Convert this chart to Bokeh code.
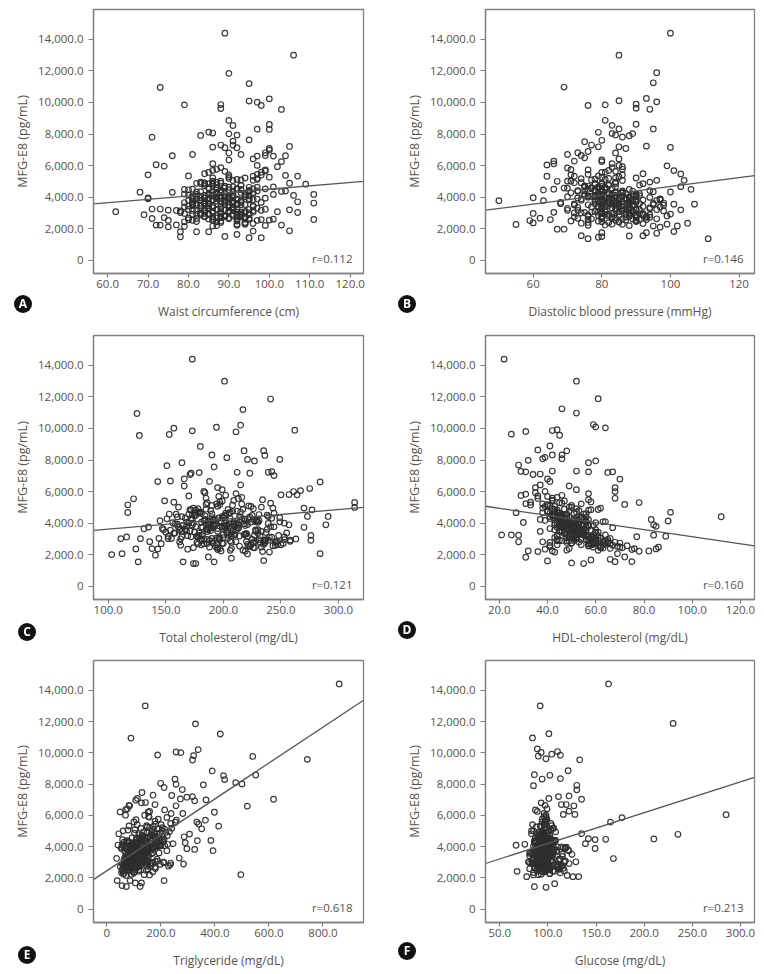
from bokeh.plotting import figure
from bokeh.models import Range1d, FixedTicker, Label, Div
from bokeh.layouts import column, row
from bokeh.embed import file_html
from bokeh.resources import INLINE

# ---------------- data ----------------
y_ticks = [0, 2000, 4000, 6000, 8000, 10000, 12000, 14000]
y_tick_labels = ["0", "2,000.0", "4,000.0", "6,000.0", "8,000.0", "10,000.0", "12,000.0", "14,000.0"]
y_title = "MFG-E8 (pg/mL)"

# MFG-E8 values of the densely packed subjects
mfg_core = [
    3820, 4150, 2960, 3540, 4410, 2680, 3980, 5120, 3310, 4630,
    2450, 3720, 4270, 3090, 5480, 3650, 2810, 4060, 3370, 4880,
    2230, 3910, 4520, 3180, 2740, 4340, 3560, 5760, 2990, 4090,
    3260, 4710, 2570, 3840, 4190, 3030, 5290, 3470, 2380, 4010,
    3690, 2880, 4460, 3140, 5010, 3780, 2620, 4230, 3420, 6120,
    2920, 4080, 3350, 4790, 2510, 3870, 4320, 3210, 5630, 2780,
    4130, 3580, 2690, 4570, 3930, 3060, 4950, 2340, 3740, 4380,
    3400, 5220, 2840, 3990, 4670, 3120, 2470, 4250, 3610, 5410,
    2970, 4480, 3290, 3850, 2160, 4020, 5870, 3500, 2730, 4170,
    3760, 2590, 4600, 3230, 4860, 3940, 2900, 5340, 3460, 4290,
    2620, 3800, 4410, 3020, 5560, 3660, 2410, 4110, 3380, 4740,
    3150, 4240, 2800, 3710, 6350, 2950, 4500, 3520, 2280, 4020,
    3890, 3070, 4820, 2540, 3600, 5180, 3330, 4390, 2770, 3960,
    4560, 2860, 3430, 5050, 3160, 4200, 2650, 3770, 4910, 3250,
    2710, 4050, 3480, 5690, 3000, 4300, 3840, 2440, 4640, 3570,
    3640, 2870, 4220, 3350, 5060, 2530, 3930, 4480, 3110, 6640,
    4010, 3270, 2720, 4870, 3590, 2190, 4350, 3780, 5440, 2960,
    3480, 4630, 2610, 3860, 3020, 5210, 4120, 2830, 3690, 7080,
    2390, 4270, 3560, 3150, 4760, 2680, 3990, 5930, 3310, 4410,
    3870, 2950, 4580, 3420, 2270, 4060, 3730, 5170, 2800, 6420,
    4190, 3080, 3510, 4950, 2640, 3820, 4440, 3200, 2480, 5580,
    3330, 4700, 2910, 4030, 3670, 5320, 2750, 3940, 4290, 3050,
    2560, 3750, 4540, 3280, 6010, 3960, 2860, 4150, 3520, 4820,
    4360, 3180, 2690, 5090, 3600, 4080, 2320, 3880, 4650, 3440,
    3010, 4230, 5720, 2780, 3710, 4500, 3240, 2600, 4080, 6800,
    3790, 2900, 4400, 3370, 4910, 2520, 3930, 3130, 5260, 4170,
    2840, 3550, 4620, 3210, 2210, 4320, 3650, 5010, 2970, 3830,
    4460, 3100, 3900, 2650, 5400, 3470, 4050, 2880, 4280, 3580,
    3260, 6250, 2770, 4140, 3720, 4850, 3040, 2430, 3960, 4560,
    2990, 4390, 3610, 5130, 3170, 2740, 4010, 3490, 4700, 3850,
]
# the same subjects listed in other orders (pairing used by some panels)
mfg_rev = list(reversed(mfg_core))
mfg_half = mfg_core[:150] + list(reversed(mfg_core[150:]))

# ---- Panel A: waist circumference (cm)
waist_core = [
    86, 91, 83, 88, 95, 80, 89, 92, 85, 97,
    82, 90, 87, 94, 84, 79, 93, 86, 91, 88,
    77, 85, 96, 89, 92, 83, 81, 87, 95, 90,
    88, 84, 98, 86, 79, 93, 90, 82, 94, 87,
    91, 85, 80, 96, 88, 84, 92, 89, 83, 86,
    93, 81, 90, 87, 86, 97, 82, 95, 89, 84,
    80, 92, 88, 85, 99, 90, 83, 94, 87, 91,
    96, 86, 92, 81, 89, 78, 88, 93, 85, 90,
    84, 79, 97, 90, 86, 94, 88, 81, 93, 82,
    89, 95, 85, 99, 83, 87, 91, 80, 96, 86,
    90, 83, 88, 92, 85, 98, 87, 84, 79, 93,
    82, 96, 91, 88, 90, 85, 81, 94, 92, 87,
    95, 88, 84, 100, 81, 90, 86, 97, 89, 83,
    87, 93, 80, 91, 98, 85, 95, 89, 84, 92,
    94, 82, 90, 86, 88, 76, 92, 87, 101, 85,
    84, 92, 87, 90, 96, 81, 88, 93, 86, 99,
    89, 85, 94, 82, 91, 87, 95, 80, 97, 88,
    83, 90, 86, 92, 78, 94, 85, 89, 91, 100,
    88, 96, 84, 81, 93, 87, 90, 102, 85, 95,
    92, 79, 89, 86, 94, 83, 91, 97, 88, 96,
    85, 90, 93, 87, 82, 95, 88, 84, 92, 98,
    91, 86, 81, 94, 89, 96, 84, 90, 87, 93,
    80, 88, 92, 85, 97, 91, 83, 94, 89, 86,
    95, 87, 90, 93, 84, 88, 96, 82, 91, 85,
    86, 94, 99, 89, 81, 92, 87, 85, 95, 90,
    93, 82, 88, 91, 86, 97, 84, 90, 100, 87,
    89, 85, 95, 80, 92, 88, 93, 86, 83, 96,
    90, 84, 87, 94, 98, 81, 91, 95, 88, 92,
    83, 103, 89, 86, 93, 85, 96, 79, 90, 87,
    94, 88, 82, 97, 91, 86, 84, 92, 89, 81,
]
waist_x = [89, 106, 90, 95, 73, 79, 88, 88, 95, 97, 98, 100, 103, 90, 91, 100, 100, 97, 90, 92,
           83, 85, 86, 71, 95, 91, 105, 104, 101, 97, 76, 81, 72, 74, 70, 107, 104, 109, 105, 111,
           111, 111, 107, 107, 105, 105, 103, 106, 103, 104, 62, 68, 69, 70, 70, 71, 71, 72, 73, 73,
           74, 75, 75, 75, 77, 78, 78, 79, 82, 85, 89, 92, 95, 98, 96, 99, 101, 102, 101, 99,
           99, 99, 100, 93, 91, 88, 86, 92, 89]
waist_y = [14400, 13000, 11850, 11200, 10950, 9850, 9870, 9620, 10090, 10020, 9810, 10230, 9560, 8860, 8540, 8610, 8290, 8310, 8010, 7930,
           7910, 8120, 8060, 7800, 7630, 7550, 7210, 6620, 6600, 6600, 6620, 6700, 6050, 5960, 5410, 5330, 5370, 4820, 4880, 4170,
           3620, 2580, 3700, 3020, 3190, 1860, 2220, 4100, 4360, 4380, 3070, 4310, 2880, 3950, 3890, 3240, 2640, 2220, 2220, 3240,
           2690, 2110, 2520, 3170, 3150, 1480, 1800, 2140, 1800, 1800, 1500, 1630, 1420, 1420, 1840, 2200, 2600, 3070, 4170, 4520,
           5650, 6810, 6980, 6700, 7300, 7300, 7170, 7130, 7130]

# ---- Panel B: diastolic blood pressure (mmHg)
dbp_core = [
    80, 76, 84, 88, 72, 90, 78, 82, 86, 74,
    70, 81, 85, 79, 92, 83, 75, 88, 80, 94,
    68, 84, 90, 77, 82, 86, 73, 80, 89, 78,
    82, 87, 71, 80, 84, 76, 91, 79, 85, 88,
    75, 80, 86, 83, 90, 72, 88, 78, 81, 96,
    84, 78, 89, 80, 66, 82, 93, 76, 87, 80,
    86, 79, 74, 92, 80, 84, 77, 90, 81, 73,
    80, 95, 82, 76, 88, 85, 70, 83, 79, 91,
    77, 84, 88, 80, 72, 90, 86, 82, 75, 94,
    81, 71, 87, 78, 92, 80, 84, 76, 89, 83,
    85, 82, 74, 90, 79, 86, 80, 77, 88, 97,
    78, 83, 86, 80, 84, 91, 73, 88, 82, 76,
    87, 80, 79, 84, 90, 75, 82, 86, 81, 98,
    92, 76, 85, 80, 88, 83, 78, 94, 86, 80,
    74, 89, 81, 87, 84, 96, 79, 82, 90, 85,
    78, 84, 80, 90, 86, 72, 82, 88, 76, 93,
    80, 74, 88, 83, 79, 70, 86, 81, 92, 77,
    84, 90, 75, 80, 82, 95, 87, 78, 85, 97,
    70, 83, 89, 76, 91, 80, 84, 99, 79, 86,
    82, 77, 90, 85, 68, 80, 88, 94, 74, 96,
    86, 80, 79, 92, 73, 84, 90, 81, 76, 89,
    80, 87, 72, 83, 90, 95, 78, 84, 88, 80,
    71, 82, 86, 79, 98, 80, 76, 90, 84, 92,
    89, 78, 74, 94, 81, 85, 69, 80, 91, 83,
    76, 84, 96, 80, 87, 90, 82, 73, 86, 100,
    83, 79, 91, 77, 88, 70, 84, 80, 94, 86,
    78, 82, 89, 85, 66, 90, 80, 93, 75, 84,
    91, 80, 86, 72, 95, 83, 88, 79, 87, 81,
    80, 97, 76, 85, 82, 92, 78, 71, 84, 90,
    75, 88, 81, 94, 80, 73, 86, 83, 89, 82,
]
dbp_x = [100, 85, 96, 95, 69, 85, 93, 96, 90, 90, 76, 81, 94, 81, 83, 90, 95, 85, 79, 83,
         84, 86, 89, 88, 75, 80, 85, 93, 100, 99, 101, 103, 104, 106, 107, 103, 103, 101, 100, 97,
         98, 99, 101, 102, 105, 111, 96, 97, 93, 92, 88, 80, 80, 79, 76, 74, 69, 67, 50, 55,
         59, 60, 60, 60, 62, 63, 63, 64, 66, 66, 64, 65, 67, 70, 72, 70, 71, 73, 75, 76,
         77, 79]
dbp_y = [14400, 13000, 11890, 11250, 10980, 10110, 10260, 10040, 9890, 9640, 9810, 9850, 9570, 8870, 8550, 8620, 8320, 8320, 8110, 8040,
         7940, 7810, 8020, 7890, 7510, 7600, 7190, 7230, 7150, 5980, 5680, 5470, 5060, 4490, 3550, 3190, 4660, 3550, 4320, 3810,
         3620, 2280, 1810, 2170, 2340, 1360, 1700, 2090, 1740, 1550, 1530, 1490, 1740, 1450, 1360, 1550, 1960, 1960, 3770, 2260,
         2510, 2360, 2960, 3960, 2660, 4450, 3770, 6040, 6110, 6280, 5320, 2570, 5000, 6700, 6280, 5850, 5740, 6810, 6490, 6890,
         7300, 7190]

# ---- Panel C: total cholesterol (mg/dL)
tc_core = [
    192, 215, 168, 201, 236, 177, 208, 185, 223, 197,
    159, 189, 227, 204, 171, 212, 183, 245, 195, 218,
    148, 206, 181, 230, 164, 199, 221, 187, 240, 175,
    210, 186, 233, 163, 196, 219, 179, 202, 154, 228,
    184, 241, 172, 209, 193, 226, 158, 214, 188, 205,
    166, 198, 224, 181, 238, 190, 207, 170, 216, 152,
    203, 179, 213, 195, 249, 167, 222, 186, 232, 200,
    176, 211, 145, 190, 218, 183, 200, 231, 161, 243,
    194, 172, 205, 226, 157, 213, 187, 239, 178, 220,
    185, 233, 169, 202, 191, 247, 174, 208, 196, 229,
    215, 162, 197, 181, 224, 206, 150, 190, 237, 173,
    199, 220, 184, 253, 178, 212, 164, 228, 193, 207,
    171, 188, 235, 198, 216, 155, 203, 181, 244, 195,
    225, 209, 176, 190, 234, 167, 217, 199, 182, 211,
    188, 242, 201, 160, 222, 195, 230, 173, 206, 186,
    187, 205, 174, 219, 242, 163, 196, 228, 181, 252,
    210, 178, 199, 235, 191, 152, 224, 203, 247, 170,
    193, 226, 160, 207, 185, 238, 214, 172, 200, 257,
    156, 217, 189, 176, 231, 166, 202, 246, 184, 221,
    208, 179, 229, 195, 147, 213, 190, 239, 168, 250,
    222, 186, 197, 236, 158, 204, 227, 181, 163, 244,
    192, 232, 171, 211, 198, 240, 165, 209, 225, 183,
    149, 201, 218, 188, 253, 206, 174, 220, 194, 237,
    215, 182, 169, 243, 196, 212, 153, 200, 230, 187,
    177, 216, 248, 167, 203, 223, 189, 157, 209, 258,
    199, 175, 226, 194, 241, 161, 207, 184, 236, 213,
    170, 197, 233, 186, 144, 219, 193, 245, 180, 205,
    228, 180, 202, 162, 249, 191, 214, 173, 221, 198,
    185, 255, 168, 211, 195, 234, 178, 151, 206, 226,
    176, 219, 190, 239, 183, 164, 208, 197, 231, 201,
]
tc_x = [173, 201, 241, 217, 125, 127, 157, 153, 173, 194, 215, 211, 262, 180, 190, 218, 235, 236, 203, 221,
        227, 249, 151, 164, 192, 172, 179, 212, 223, 239, 242, 244, 143, 154, 284, 275, 267, 261, 264, 257,
        250, 117, 117, 122, 314, 314, 277, 270, 273, 291, 289, 270, 276, 276, 284, 263, 253, 258, 235, 103,
        112, 111, 116, 124, 126, 128, 131, 135, 136, 138, 141, 143, 146, 165, 174, 176, 192, 187, 207, 221]
tc_y = [14400, 13000, 11870, 11200, 10950, 9560, 10020, 9620, 9850, 10080, 10210, 9790, 9890, 8860, 8320, 8590, 8590, 8290, 8150, 8040,
        7940, 8040, 7640, 7830, 7560, 7160, 7200, 7220, 7160, 7220, 7260, 7010, 6630, 6670, 6610, 6190, 6060, 6000, 5790, 5810,
        5790, 5160, 4670, 5540, 5310, 4990, 4840, 4950, 4420, 4420, 3890, 3730, 3220, 2910, 2060, 2990, 2950, 2840, 1620, 2000,
        2060, 3010, 3120, 2360, 1540, 3010, 3640, 3750, 2820, 2380, 1960, 2360, 2690, 1540, 1430, 1430, 1540, 1850, 1770, 2040]

# ---- Panel D: HDL-cholesterol (mg/dL)
hdl_core = [
    48, 52, 44, 56, 41, 59, 47, 50, 54, 45,
    62, 46, 51, 43, 57, 49, 38, 53, 60, 47,
    42, 55, 48, 61, 50, 44, 58, 46, 52, 64,
    51, 40, 57, 47, 53, 66, 45, 55, 49, 43,
    56, 48, 42, 59, 50, 46, 54, 37, 61, 52,
    45, 63, 49, 53, 41, 57, 47, 51, 44, 68,
    50, 43, 58, 46, 55, 48, 62, 39, 52, 56,
    47, 54, 65, 49, 44, 51, 59, 45, 53, 42,
    60, 46, 50, 55, 43, 48, 57, 52, 70, 47,
    53, 41, 56, 49, 61, 45, 51, 58, 46, 54,
    44, 57, 48, 52, 36, 50, 63, 47, 55, 49,
    58, 45, 53, 67, 49, 56, 42, 51, 48, 60,
    46, 52, 44, 57, 50, 72, 48, 54, 41, 53,
    55, 49, 60, 43, 51, 47, 58, 45, 52, 64,
    50, 56, 46, 40, 54, 48, 59, 62, 44, 51,
    50, 44, 57, 47, 39, 62, 53, 45, 58, 41,
    46, 55, 60, 43, 51, 36, 49, 56, 42, 65,
    54, 41, 63, 48, 52, 38, 46, 59, 50, 34,
    66, 47, 53, 44, 40, 57, 49, 35, 55, 45,
    43, 58, 48, 52, 61, 46, 51, 40, 64, 37,
    55, 49, 45, 38, 59, 50, 43, 56, 70, 42,
    47, 52, 60, 44, 53, 33, 58, 48, 41, 62,
    73, 50, 42, 54, 39, 46, 60, 51, 45, 57,
    44, 56, 66, 41, 49, 53, 75, 47, 38, 52,
    58, 43, 36, 60, 51, 45, 55, 67, 49, 40,
    48, 61, 45, 53, 42, 69, 50, 57, 46, 39,
    63, 47, 51, 44, 78, 54, 41, 49, 56, 45,
    42, 59, 50, 64, 47, 37, 53, 46, 52, 60,
    52, 35, 48, 56, 44, 58, 62, 71, 50, 43,
    57, 46, 53, 40, 49, 65, 45, 51, 43, 55,
]
hdl_x = [22, 52, 61, 46, 52, 25, 31, 42, 44, 45, 59, 60, 64, 41, 36, 48, 46, 42, 46, 39,
         38, 32, 28, 29, 31, 37, 42, 57, 60, 57, 52, 65, 67, 70, 68, 68, 78, 68, 91, 90,
         89, 112, 83, 84, 85, 84, 82, 86, 85, 77, 76, 75, 72, 69, 68, 66, 58, 55, 50, 40,
         31, 21, 25, 28, 28, 27, 29, 31, 31, 33, 30, 32]
hdl_y = [14400, 13000, 11890, 11250, 10980, 9640, 9810, 9870, 9920, 9570, 10250, 10100, 10040, 8890, 8640, 8580, 8320, 8320, 8080, 8170,
         8080, 7980, 7680, 7280, 7250, 7110, 7300, 7830, 7940, 7250, 7300, 7210, 7250, 6790, 6250, 6000, 5300, 5570, 4680, 4130,
         3170, 4400, 4230, 3890, 3790, 3230, 2230, 2470, 2360, 3130, 2380, 1550, 1850, 2060, 1550, 1700, 1660, 1430, 1470, 1600,
         1830, 3250, 3250, 2810, 3230, 4660, 5750, 5830, 5230, 5150, 4040, 2230]

# ---- Panel E: triglyceride (mg/dL)
tg_core = [
    120, 176, 88, 142, 131, 72, 158, 214, 96, 190,
    68, 150, 118, 112, 236, 101, 84, 185, 134, 148,
    92, 109, 198, 76, 118, 162, 88, 190, 130, 124,
    105, 224, 58, 167, 98, 128, 172, 79, 102, 146,
    112, 96, 183, 63, 205, 129, 110, 170, 151, 238,
    72, 137, 100, 163, 86, 95, 209, 141, 178, 61,
    196, 116, 99, 140, 153, 84, 232, 54, 88, 127,
    120, 158, 126, 103, 178, 97, 80, 145, 170, 201,
    115, 212, 66, 131, 70, 90, 222, 108, 77, 161,
    146, 90, 152, 122, 196, 174, 57, 147, 93, 187,
    74, 98, 138, 103, 253, 133, 95, 119, 82, 170,
    135, 110, 69, 160, 214, 85, 165, 99, 63, 130,
    117, 70, 185, 102, 138, 240, 89, 197, 112, 154,
    121, 107, 145, 168, 78, 183, 66, 106, 218, 126,
    86, 200, 114, 257, 92, 143, 75, 58, 176, 128,
    88, 130, 105, 62, 148, 95, 192, 120, 74, 165,
    150, 55, 118, 132, 176, 88, 96, 124, 158, 79,
    143, 110, 64, 196, 122, 112, 82, 147, 70, 205,
    112, 210, 60, 99, 80, 138, 116, 140, 165, 234,
    92, 150, 140, 68, 58, 176, 154, 123, 92, 131,
    128, 86, 180, 103, 130, 66, 162, 108, 76, 210,
    90, 172, 53, 101, 129, 193, 104, 178, 87, 140,
    44, 105, 225, 118, 166, 140, 73, 110, 96, 152,
    180, 63, 86, 228, 82, 120, 97, 160, 130, 110,
    100, 146, 186, 58, 113, 104, 136, 70, 188, 245,
    76, 116, 126, 152, 214, 61, 137, 93, 170, 98,
    108, 127, 155, 75, 66, 118, 97, 140, 84, 170,
    113, 128, 85, 57, 205, 151, 162, 68, 133, 78,
    144, 180, 92, 74, 158, 117, 102, 50, 123, 190,
    82, 150, 134, 172, 119, 78, 94, 106, 198, 116,
]
tg_x = [860, 142, 89, 328, 420, 188, 256, 274, 321, 317, 338, 390, 432, 436, 540, 551, 742, 477, 500, 357,
        367, 520, 617, 496, 398, 414, 365, 385, 393, 296, 325, 335, 333, 351, 340, 296, 317, 325, 279, 256,
        252, 199, 212, 240, 272, 281, 256, 286, 290, 306, 284, 268, 236, 212, 222, 171, 130, 143, 178, 153,
        156, 107, 84, 70, 69, 49, 41, 36, 38, 56, 72, 123, 128, 105, 86]
tg_y = [14400, 13000, 10940, 11850, 11200, 9860, 10050, 10010, 9820, 9540, 10200, 8840, 8540, 8290, 9770, 8580, 9580, 8090, 8010, 7950,
        6990, 6590, 7030, 2210, 6200, 5310, 5690, 4400, 3740, 3870, 3820, 4380, 5570, 5140, 5440, 7160, 7200, 6930, 7650, 7990,
        8310, 8050, 7780, 7270, 7050, 6120, 6610, 4630, 4250, 4800, 2890, 3270, 2950, 1830, 3740, 7290, 7460, 6820, 6690, 6200,
        5890, 6970, 6610, 6370, 6010, 6220, 4100, 3250, 1830, 1510, 1450, 1450, 1680, 1680, 1830]

# ---- Panel F: glucose (mg/dL)
glu_core = [
    95, 102, 88, 98, 110, 91, 97, 104, 86, 100,
    92, 99, 107, 84, 96, 101, 93, 115, 89, 97,
    81, 94, 100, 90, 103, 96, 87, 118, 98, 92,
    99, 93, 85, 106, 95, 90, 112, 97, 83, 101,
    96, 88, 104, 94, 99, 91, 100, 108, 87, 121,
    93, 97, 102, 90, 96, 86, 105, 99, 94, 80,
    100, 92, 98, 113, 95, 89, 103, 91, 97, 106,
    88, 101, 95, 93, 119, 98, 90, 102, 94, 111,
    97, 87, 100, 96, 92, 109, 99, 84, 93, 104,
    94, 98, 90, 101, 97, 86, 95, 125, 91, 100,
    99, 93, 105, 88, 96, 102, 94, 97, 82, 107,
    91, 100, 96, 114, 98, 92, 103, 89, 95, 97,
    101, 95, 88, 93, 99, 117, 90, 96, 94, 102,
    92, 98, 106, 97, 85, 100, 93, 110, 96, 89,
    97, 94, 99, 116, 91, 103, 95, 87, 100, 96,
    93, 100, 89, 96, 105, 87, 98, 102, 91, 112,
    97, 94, 86, 103, 99, 84, 101, 95, 110, 90,
    92, 99, 88, 96, 106, 91, 100, 83, 94, 118,
    85, 102, 95, 90, 98, 87, 104, 114, 93, 100,
    96, 89, 101, 94, 82, 97, 92, 107, 88, 116,
    99, 93, 104, 90, 95, 100, 86, 97, 81, 109,
    94, 101, 87, 98, 92, 120, 96, 90, 103, 88,
    84, 95, 100, 93, 111, 97, 89, 102, 96, 105,
    98, 91, 85, 108, 94, 100, 87, 96, 103, 92,
    90, 97, 113, 86, 95, 101, 93, 88, 99, 122,
    96, 92, 102, 89, 106, 83, 98, 94, 109, 100,
    87, 95, 99, 93, 80, 104, 97, 112, 90, 96,
    101, 88, 94, 85, 107, 96, 100, 91, 97, 93,
    95, 115, 90, 98, 92, 103, 94, 86, 99, 105,
    91, 100, 96, 110, 93, 89, 97, 95, 102, 94,
]
glu_x = [163, 92, 230, 101, 84, 89, 90, 93, 98, 104, 110, 113, 133, 86, 121, 102, 113, 94, 85, 130,
         130, 135, 122, 111, 114, 119, 127, 128, 116, 122, 165, 177, 210, 235, 285, 168, 149, 149, 160, 142,
         135, 139, 129, 126, 132, 107, 98, 86, 67, 68, 76, 78, 81, 117, 118, 115, 122]
glu_y = [14400, 13000, 11880, 11220, 10950, 10250, 9790, 10020, 9620, 9910, 10080, 9850, 9550, 8600, 8850, 8560, 8350, 8320, 7900, 7920,
         7630, 7030, 7240, 7200, 6690, 6690, 6610, 6060, 6060, 6270, 5570, 5850, 4490, 4790, 6040, 3240, 4450, 3880, 4470, 4510,
         4830, 4190, 3030, 2080, 2080, 1630, 1400, 1440, 4090, 2420, 4150, 2080, 3410, 2460, 3090, 3520, 3730]

# axis titles, ticks, correlation and fitted lines
panels = [
    dict(letter="A", title="Waist circumference (cm)", core=waist_core, mfg=mfg_core, xs=waist_x, ys=waist_y,
         xticks=[60, 70, 80, 90, 100, 110, 120],
         xlabels=["60.0", "70.0", "80.0", "90.0", "100.0", "110.0", "120.0"],
         xr=(56.5, 123.3), r="r=0.112", fit_intercept=2369, fit_slope=21.27),
    dict(letter="B", title="Diastolic blood pressure (mmHg)", core=dbp_core, mfg=mfg_rev, xs=dbp_x, ys=dbp_y,
         xticks=[60, 80, 100, 120], xlabels=["60", "80", "100", "120"],
         xr=(46.1, 124.5), r="r=0.146", fit_intercept=1874, fit_slope=28.02),
    dict(letter="C", title="Total cholesterol (mg/dL)", core=tc_core, mfg=mfg_rev, xs=tc_x, ys=tc_y,
         xticks=[100, 150, 200, 250, 300], xlabels=["100.0", "150.0", "200.0", "250.0", "300.0"],
         xr=(87.2, 321.7), r="r=0.121", fit_intercept=2996, fit_slope=6.196),
    dict(letter="D", title="HDL-cholesterol (mg/dL)", core=hdl_core, mfg=mfg_core, xs=hdl_x, ys=hdl_y,
         xticks=[20, 40, 60, 80, 100, 120], xlabels=["20.0", "40.0", "60.0", "80.0", "100.0", "120.0"],
         xr=(14.3, 125.8), r="r=0.160", fit_intercept=5390, fit_slope=-22.56),
    dict(letter="E", title="Triglyceride (mg/dL)", core=tg_core, mfg=mfg_half, xs=tg_x, ys=tg_y,
         xticks=[0, 200, 400, 600, 800], xlabels=["0", "200.0", "400.0", "600.0", "800.0"],
         xr=(-49.6, 950.0), r="r=0.618", fit_intercept=2462, fit_slope=11.475),
    dict(letter="F", title="Glucose (mg/dL)", core=glu_core, mfg=mfg_rev, xs=glu_x, ys=glu_y,
         xticks=[50, 100, 150, 200, 250, 300], xlabels=["50.0", "100.0", "150.0", "200.0", "250.0", "300.0"],
         xr=(35.2, 314.5), r="r=0.213", fit_intercept=2228, fit_slope=19.72),
]

# ---------------- style ----------------
FONT = "Open Sans"
TEXT = "#57514d"
FRAME = "#808080"
MARK = "#2e2e2e"

col_w = [388, 376]
col_bl = [93, 97]
col_br = [25, 10]
row_h = [333, 325, 316]
row_bt = [9, 2, 2]
row_bb = [60, 59, 52]
# top-left page position of each round panel badge
badge_pos = [(14, 295), (398, 295), (18, 623), (398, 621), (18, 946), (398, 942)]


def make_panel(cfg, r, c):
    x0, x1 = cfg["xr"]
    p = figure(width=col_w[c], height=row_h[r],
               x_range=Range1d(x0, x1), y_range=Range1d(-850, 15900),
               output_backend="svg", toolbar_location=None,
               min_border_left=col_bl[c], min_border_right=col_br[c],
               min_border_top=row_bt[r], min_border_bottom=row_bb[r])
    p.background_fill_color = "white"
    p.border_fill_color = "white"
    p.xgrid.visible = False
    p.ygrid.visible = False
    p.outline_line_color = FRAME
    p.outline_line_width = 1.3
    p.outline_line_alpha = 1.0

    p.xaxis.ticker = FixedTicker(ticks=cfg["xticks"])
    p.xaxis.major_label_overrides = {t: l for t, l in zip(cfg["xticks"], cfg["xlabels"])}
    p.yaxis.ticker = FixedTicker(ticks=y_ticks)
    p.yaxis.major_label_overrides = {t: l for t, l in zip(y_ticks, y_tick_labels)}
    p.xaxis.axis_label = cfg["title"]
    p.yaxis.axis_label = y_title

    for ax in (p.xaxis[0], p.yaxis[0]):
        ax.axis_line_color = FRAME
        ax.axis_line_width = 1.3
        ax.major_tick_line_color = FRAME
        ax.major_tick_line_width = 1.2
        ax.minor_tick_line_color = None
        ax.major_tick_in = 0
        ax.major_label_text_font = FONT
        ax.major_label_text_font_size = "11.5px"
        ax.major_label_text_color = TEXT
        ax.axis_label_text_font = FONT
        ax.axis_label_text_font_size = "12px"
        ax.axis_label_text_font_style = "normal"
        ax.axis_label_text_color = TEXT
    p.yaxis.axis_label_text_font_size = "12.5px"
    p.xaxis.major_tick_out = 4
    p.xaxis.major_label_standoff = 2
    p.xaxis.axis_label_standoff = 12
    p.yaxis.major_tick_out = 5
    p.yaxis.major_label_standoff = 5
    p.yaxis.axis_label_standoff = 4

    xs_all = cfg["core"] + cfg["xs"]
    ys_all = cfg["mfg"][:len(cfg["core"])] + cfg["ys"]
    p.scatter(xs_all, ys_all, marker="circle", size=5.6, fill_color=None,
              line_color=MARK, line_width=1.2, line_alpha=0.95)

    lx = [x0, x1]
    ly = [cfg["fit_intercept"] + cfg["fit_slope"] * v for v in lx]
    p.line(lx, ly, line_color="#555555", line_width=1.3)

    fw = col_w[c] - col_bl[c] - col_br[c]
    p.add_layout(Label(x=fw - 11, y=15, x_units="screen", y_units="screen",
                       text=cfg["r"], text_align="right", text_baseline="middle",
                       text_font=FONT, text_font_size="11.5px", text_color=TEXT))
    return p


def make_badge(letter, pos):
    html = ('<div style="width:18px;height:18px;border-radius:9px;background:#111111;'
            'color:#ffffff;font-family:\'Open Sans\';font-weight:bold;font-size:12px;'
            'line-height:18px;text-align:center;">%s</div>' % letter)
    return Div(text=html, width=18, height=18, margin=0,
               styles={"position": "fixed", "left": "%dpx" % pos[0], "top": "%dpx" % pos[1],
                       "z-index": "10"})


figs = [make_panel(cfg, i // 2, i % 2) for i, cfg in enumerate(panels)]
badges = [make_badge(cfg["letter"], badge_pos[i]) for i, cfg in enumerate(panels)]
layout = column(row(figs[0], figs[1]), row(figs[2], figs[3]), row(figs[4], figs[5]), *badges)

open("out.html", "w").write(file_html(layout, INLINE))
